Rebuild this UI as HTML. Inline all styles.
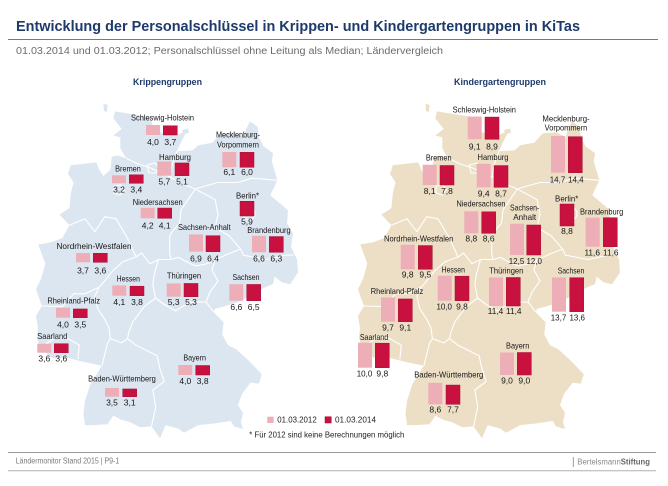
<!DOCTYPE html>
<html><head><meta charset="utf-8"><style>
html,body{margin:0;padding:0;background:#fff;}
svg{display:block;}
text{font-family:"Liberation Sans Narrow","Liberation Sans",Arial,sans-serif;}
.l{font-size:8.5px;fill:#161616;text-anchor:middle;}
.v{font-size:8.5px;fill:#161616;text-anchor:middle;}
.p{fill:#eeaeb7;}
.r{fill:#c9113f;stroke:#a50c33;stroke-width:0.5;}
.b{fill:none;stroke:#fff;stroke-width:1.1;stroke-linejoin:round;}
</style></head><body>
<svg width="668" height="486" viewBox="0 0 668 486" xmlns="http://www.w3.org/2000/svg">
<rect width="668" height="486" fill="#fff"/>
<!-- header -->
<text x="16" y="31" font-size="15" font-weight="bold" fill="#1d3a6b" textLength="564" lengthAdjust="spacingAndGlyphs">Entwicklung der Personalschlüssel in Krippen- und Kindergartengruppen in KiTas</text>
<line x1="8" y1="39.5" x2="658" y2="39.5" stroke="#7a7a7a" stroke-width="1"/>
<text x="16" y="54" font-size="10" fill="#6b6b6b" textLength="427" lengthAdjust="spacingAndGlyphs">01.03.2014 und 01.03.2012; Personalschlüssel ohne Leitung als Median; Ländervergleich</text>
<text x="167.5" y="85" font-size="9" font-weight="bold" fill="#1d3a6b" text-anchor="middle" textLength="69" lengthAdjust="spacingAndGlyphs">Krippengruppen</text>
<text x="500" y="85" font-size="9" font-weight="bold" fill="#1d3a6b" text-anchor="middle" textLength="92" lengthAdjust="spacingAndGlyphs">Kindergartengruppen</text>

<!-- LEFT MAP -->
<g>
<path fill="#dce6f1" d="M115,111.4 L135.9,114.8 L150.1,117 L152.9,126.4 L158.5,132 L175.5,135.4 L186.8,131.1 L181.2,141.8 L176.9,151.2 L192.5,150.4 L198.2,145.2 L212.3,142.7 L220.8,133.2 L235,132.4 L243.5,137.5 L246.3,129 L250,121.3 L257.6,126.8 L259,137.5 L263.3,146.1 L273.1,153.3 L271.7,161.1 L277.4,180.3 L270.3,195.3 L288,210.3 L287,223.1 L293,233.8 L291,246.7 L297,259.5 L298,272.4 L290.1,284.3 L281.6,282.2 L274.6,276.6 L273.1,283.9 L263.3,288.2 L251.9,294.6 L237.8,302.3 L223.6,306.6 L215.1,308.7 L213.7,312.1 L223.6,322.4 L222.2,334.4 L227.9,345.1 L236.4,349.4 L249.1,361 L261.8,374.2 L259,383.6 L250.5,382.7 L242,394 L238,405 L243,413 L241,422 L243,429 L234,426.4 L230.7,420.9 L215.1,423.4 L198.2,425.1 L184,432.8 L178.3,428.6 L165.6,425.1 L160,438.4 L151.5,426.4 L140.1,427.3 L130.2,422.2 L121.7,420 L113.3,415.7 L107.6,424.3 L93.4,425.1 L85,425.1 L83.5,413.6 L85,400.8 L90.6,383.6 L101.9,365.7 L85,362.2 L68,358 L52,358 L40,348 L37,338 L38,328 L36,316 L42,306 L39,298 L36,289 L41.1,278.8 L45.3,263.8 L38.3,244.5 L51,242.3 L62.3,238.1 L69.4,225.3 L59.5,214.6 L69.4,208.1 L70.8,193.2 L73.6,182.5 L68,173.9 L70.8,165.3 L96.3,162.4 L99.1,169.6 L103.4,176 L110.4,169.6 L111.8,156.8 L117.5,155.5 L126,158.1 L120.3,148.2 L120.3,137.5 L113.3,135.4 L121.7,129 L113.3,118.3 Z M103.5,104 L107.5,104.5 L107,112 L104,111 Z M182,130 L188,128.5 L189,133 L183,133.5 Z"/>
<path class="b" d="M126,158.1 L138,164 L148,167 L160,172 L170,177 L172,165 L176.9,151.2 M170,177 L183,184 L195.3,189 L205,186 L218,182.5 L237.8,182.5 L251.9,178.2 L277.4,180.3 M195.3,189 L188,199.6 L181,210 L179.6,223 L172,232 L169.7,236 L169.7,253 L171,259.5 L158.5,259.5 L150,263.8 L141.6,253 L136,257 L127.4,238 L116,218.8 L104.8,216.7 L94.9,231.7 L85,218.8 L69.4,225.3 M195.3,189 L215.1,199.6 L218,214.6 L215.1,227.4 L229.3,236 L240.6,249 L243.4,255.2 L266.1,259.5 L285.9,255.2 L294,255 M240.6,249 L228,254 L215,260 L206,264 L195.3,265.9 L185,261 L178.3,257.4 L171,259.5 M215,260 L212,270 L218,281 L210,292 L206,302 L213.7,312.1 M206,302 L189.8,302.3 L175.5,310.9 L164.2,304.5 L155.6,298 L152.9,285.2 L154.3,274.5 L158.5,259.5 M136,257 L123.2,261.6 L113.3,270.2 L104.8,280.9 L99.1,287.3 L94.9,295.9 L97.7,308.7 L104.8,319.4 L109,328 L110.4,338.7 L121.7,342.9 L127.4,338.7 L128.8,332.3 L133,321.6 L144.3,306.6 L155.6,298 M99.1,287.3 L85,293.7 L73.6,293.7 L62.3,306.6 L42,306 M40,348 L56.7,336.5 L68,338.7 L79.3,345.1 L77.9,359 M110.4,338.7 L107.6,342.9 L101.9,365.7 M127.4,338.7 L135.9,345.1 L157.1,355.8 L159.9,368.6 L164.2,381.4 L152.9,390 L155.7,407.1 L151.5,426.4 M147,165 L155,163 L159,168 L156,173 L149,173 Z M114,186 L121,185 L124,190 L120,195 L114,193 Z M243.1,213.7 a6,6 0 1,0 12,0 a6,6 0 1,0 -12,0"/>
</g>

<!-- RIGHT MAP -->
<g transform="translate(322,0)">
<path fill="#ecdfc6" d="M115,111.4 L135.9,114.8 L150.1,117 L152.9,126.4 L158.5,132 L175.5,135.4 L186.8,131.1 L181.2,141.8 L176.9,151.2 L192.5,150.4 L198.2,145.2 L212.3,142.7 L220.8,133.2 L235,132.4 L243.5,137.5 L246.3,129 L250,121.3 L257.6,126.8 L259,137.5 L263.3,146.1 L273.1,153.3 L271.7,161.1 L277.4,180.3 L270.3,195.3 L288,210.3 L287,223.1 L293,233.8 L291,246.7 L297,259.5 L298,272.4 L290.1,284.3 L281.6,282.2 L274.6,276.6 L273.1,283.9 L263.3,288.2 L251.9,294.6 L237.8,302.3 L223.6,306.6 L215.1,308.7 L213.7,312.1 L223.6,322.4 L222.2,334.4 L227.9,345.1 L236.4,349.4 L249.1,361 L261.8,374.2 L259,383.6 L250.5,382.7 L242,394 L238,405 L243,413 L241,422 L243,429 L234,426.4 L230.7,420.9 L215.1,423.4 L198.2,425.1 L184,432.8 L178.3,428.6 L165.6,425.1 L160,438.4 L151.5,426.4 L140.1,427.3 L130.2,422.2 L121.7,420 L113.3,415.7 L107.6,424.3 L93.4,425.1 L85,425.1 L83.5,413.6 L85,400.8 L90.6,383.6 L101.9,365.7 L85,362.2 L68,358 L52,358 L40,348 L37,338 L38,328 L36,316 L42,306 L39,298 L36,289 L41.1,278.8 L45.3,263.8 L38.3,244.5 L51,242.3 L62.3,238.1 L69.4,225.3 L59.5,214.6 L69.4,208.1 L70.8,193.2 L73.6,182.5 L68,173.9 L70.8,165.3 L96.3,162.4 L99.1,169.6 L103.4,176 L110.4,169.6 L111.8,156.8 L117.5,155.5 L126,158.1 L120.3,148.2 L120.3,137.5 L113.3,135.4 L121.7,129 L113.3,118.3 Z M103.5,104 L107.5,104.5 L107,112 L104,111 Z M182,130 L188,128.5 L189,133 L183,133.5 Z"/>
<path class="b" d="M126,158.1 L138,164 L148,167 L160,172 L170,177 L172,165 L176.9,151.2 M170,177 L183,184 L195.3,189 L205,186 L218,182.5 L237.8,182.5 L251.9,178.2 L277.4,180.3 M195.3,189 L188,199.6 L181,210 L179.6,223 L172,232 L169.7,236 L169.7,253 L171,259.5 L158.5,259.5 L150,263.8 L141.6,253 L136,257 L127.4,238 L116,218.8 L104.8,216.7 L94.9,231.7 L85,218.8 L69.4,225.3 M195.3,189 L215.1,199.6 L218,214.6 L215.1,227.4 L229.3,236 L240.6,249 L243.4,255.2 L266.1,259.5 L285.9,255.2 L294,255 M240.6,249 L228,254 L215,260 L206,264 L195.3,265.9 L185,261 L178.3,257.4 L171,259.5 M215,260 L212,270 L218,281 L210,292 L206,302 L213.7,312.1 M206,302 L189.8,302.3 L175.5,310.9 L164.2,304.5 L155.6,298 L152.9,285.2 L154.3,274.5 L158.5,259.5 M136,257 L123.2,261.6 L113.3,270.2 L104.8,280.9 L99.1,287.3 L94.9,295.9 L97.7,308.7 L104.8,319.4 L109,328 L110.4,338.7 L121.7,342.9 L127.4,338.7 L128.8,332.3 L133,321.6 L144.3,306.6 L155.6,298 M99.1,287.3 L85,293.7 L73.6,293.7 L62.3,306.6 L42,306 M40,348 L56.7,336.5 L68,338.7 L79.3,345.1 L77.9,359 M110.4,338.7 L107.6,342.9 L101.9,365.7 M127.4,338.7 L135.9,345.1 L157.1,355.8 L159.9,368.6 L164.2,381.4 L152.9,390 L155.7,407.1 L151.5,426.4 M147,165 L155,163 L159,168 L156,173 L149,173 Z M114,186 L121,185 L124,190 L120,195 L114,193 Z M243.1,213.7 a6,6 0 1,0 12,0 a6,6 0 1,0 -12,0"/>
</g>

<!-- LEFT BARS & LABELS -->
<text class="l" x="162.5" y="120.7" textLength="63" lengthAdjust="spacingAndGlyphs">Schleswig-Holstein</text>
<rect class="p" x="146" y="125" width="14" height="10"/><rect class="r" x="163.3" y="125.75" width="14" height="9.25"/>
<text class="v" x="153" y="145">4,0</text><text class="v" x="170.3" y="145">3,7</text>

<text class="l" x="238" y="137.3" textLength="44" lengthAdjust="spacingAndGlyphs">Mecklenburg-</text>
<text class="l" x="238" y="147.7" textLength="42" lengthAdjust="spacingAndGlyphs">Vorpommern</text>
<rect class="p" x="222.3" y="152.05" width="14" height="15.25"/><rect class="r" x="240" y="152.3" width="14" height="15"/>
<text class="v" x="229.3" y="175">6,1</text><text class="v" x="247" y="175">6,0</text>

<text class="l" x="175" y="160" textLength="32" lengthAdjust="spacingAndGlyphs">Hamburg</text>
<rect class="p" x="157.3" y="161.45" width="14" height="14.25"/><rect class="r" x="175" y="162.95" width="14" height="12.75"/>
<text class="v" x="164.3" y="184.3">5,7</text><text class="v" x="182" y="184.3">5,1</text>

<text class="l" x="128" y="171.7" textLength="25.7" lengthAdjust="spacingAndGlyphs">Bremen</text>
<rect class="p" x="112" y="175.3" width="14" height="8"/><rect class="r" x="129.3" y="174.8" width="14" height="8.5"/>
<text class="v" x="119" y="192.7">3,2</text><text class="v" x="136.3" y="192.7">3,4</text>

<text class="l" x="247.5" y="198.3" textLength="23" lengthAdjust="spacingAndGlyphs">Berlin*</text>
<rect class="r" x="240" y="201.25" width="14" height="14.75"/>
<text class="v" x="247" y="224.3">5,9</text>

<text class="l" x="157.7" y="205" textLength="50" lengthAdjust="spacingAndGlyphs">Niedersachsen</text>
<rect class="p" x="140.7" y="207.8" width="14" height="10.5"/><rect class="r" x="157.7" y="208.05" width="14" height="10.25"/>
<text class="v" x="147.7" y="228.3">4,2</text><text class="v" x="164.7" y="228.3">4,1</text>

<text class="l" x="204.3" y="230" textLength="52.7" lengthAdjust="spacingAndGlyphs">Sachsen-Anhalt</text>
<rect class="p" x="189" y="234.45" width="14" height="17.25"/><rect class="r" x="206" y="235.7" width="14" height="16"/>
<text class="v" x="196" y="261.7">6,9</text><text class="v" x="213" y="261.7">6,4</text>

<text class="l" x="269" y="233" textLength="43.4" lengthAdjust="spacingAndGlyphs">Brandenburg</text>
<rect class="p" x="252" y="235.8" width="14" height="16.5"/><rect class="r" x="269.3" y="236.55" width="14" height="15.75"/>
<text class="v" x="259" y="261.7">6,6</text><text class="v" x="276.3" y="261.7">6,3</text>

<text class="l" x="94" y="249" textLength="75" lengthAdjust="spacingAndGlyphs">Nordrhein-Westfalen</text>
<rect class="p" x="76" y="253.05" width="14" height="9.25"/><rect class="r" x="93.3" y="253.3" width="14" height="9"/>
<text class="v" x="83" y="273.3">3,7</text><text class="v" x="100.3" y="273.3">3,6</text>

<text class="l" x="128.3" y="281.7" textLength="23.3" lengthAdjust="spacingAndGlyphs">Hessen</text>
<rect class="p" x="112.3" y="285.45" width="14" height="10.25"/><rect class="r" x="130" y="286.2" width="14" height="9.5"/>
<text class="v" x="119.3" y="305">4,1</text><text class="v" x="137" y="305">3,8</text>

<text class="l" x="184" y="278.3" textLength="34.3" lengthAdjust="spacingAndGlyphs">Thüringen</text>
<rect class="p" x="166.7" y="283.45" width="14" height="13.25"/><rect class="r" x="184" y="283.45" width="14" height="13.25"/>
<text class="v" x="173.7" y="305">5,3</text><text class="v" x="191" y="305">5,3</text>

<text class="l" x="246" y="280" textLength="27" lengthAdjust="spacingAndGlyphs">Sachsen</text>
<rect class="p" x="229.3" y="284.2" width="14" height="16.5"/><rect class="r" x="246.7" y="284.45" width="14" height="16.25"/>
<text class="v" x="236.3" y="310">6,6</text><text class="v" x="253.7" y="310">6,5</text>

<text class="l" x="73.7" y="303.3" textLength="52.7" lengthAdjust="spacingAndGlyphs">Rheinland-Pfalz</text>
<rect class="p" x="56" y="307.7" width="14" height="10"/><rect class="r" x="73.3" y="308.95" width="14" height="8.75"/>
<text class="v" x="63" y="327.3">4,0</text><text class="v" x="80.3" y="327.3">3,5</text>

<text class="l" x="52.3" y="339" textLength="30" lengthAdjust="spacingAndGlyphs">Saarland</text>
<rect class="p" x="37.3" y="343.7" width="14" height="9"/><rect class="r" x="54.3" y="343.7" width="14" height="9"/>
<text class="v" x="44.3" y="361.7">3,6</text><text class="v" x="61.3" y="361.7">3,6</text>

<text class="l" x="194.7" y="360.7" textLength="22.7" lengthAdjust="spacingAndGlyphs">Bayern</text>
<rect class="p" x="178.3" y="365" width="14" height="10"/><rect class="r" x="195.7" y="365.5" width="14" height="9.5"/>
<text class="v" x="185.3" y="384">4,0</text><text class="v" x="202.7" y="384">3,8</text>

<text class="l" x="122" y="381.7" textLength="67.7" lengthAdjust="spacingAndGlyphs">Baden-Württemberg</text>
<rect class="p" x="105" y="387.95" width="14" height="8.75"/><rect class="r" x="122.7" y="388.95" width="14" height="7.75"/>
<text class="v" x="112" y="405.7">3,5</text><text class="v" x="129.7" y="405.7">3,1</text>

<!-- RIGHT BARS & LABELS -->
<text class="l" x="484.3" y="112.7" textLength="63.3" lengthAdjust="spacingAndGlyphs">Schleswig-Holstein</text>
<rect class="p" x="467.7" y="116.55" width="14" height="22.75"/><rect class="r" x="485" y="117.05" width="14" height="22.25"/>
<text class="v" x="474.7" y="149.3">9,1</text><text class="v" x="492" y="149.3">8,9</text>

<text class="l" x="566" y="121.7" textLength="47.3" lengthAdjust="spacingAndGlyphs">Mecklenburg-</text>
<text class="l" x="566" y="130.7" textLength="42.7" lengthAdjust="spacingAndGlyphs">Vorpommern</text>
<rect class="p" x="551" y="135.95" width="14" height="36.75"/><rect class="r" x="568.3" y="136.7" width="14" height="36"/>
<text class="v" x="557.5" y="182.7" textLength="15.5" lengthAdjust="spacingAndGlyphs">14,7</text><text class="v" x="575.8" y="182.7" textLength="15.5" lengthAdjust="spacingAndGlyphs">14,4</text>

<text class="l" x="438.7" y="160.5" textLength="25.7" lengthAdjust="spacingAndGlyphs">Bremen</text>
<rect class="p" x="422.7" y="164.75" width="14" height="20.25"/><rect class="r" x="440" y="165.5" width="14" height="19.5"/>
<text class="v" x="429.7" y="194">8,1</text><text class="v" x="447" y="194">7,8</text>

<text class="l" x="493" y="160" textLength="31" lengthAdjust="spacingAndGlyphs">Hamburg</text>
<rect class="p" x="476.7" y="163.8" width="14" height="23.5"/><rect class="r" x="494" y="165.55" width="14" height="21.75"/>
<text class="v" x="483.7" y="196.7">9,4</text><text class="v" x="501" y="196.7">8,7</text>

<text class="l" x="481" y="206.7" textLength="49" lengthAdjust="spacingAndGlyphs">Niedersachsen</text>
<rect class="p" x="464.3" y="211.3" width="14" height="22"/><rect class="r" x="481.7" y="211.8" width="14" height="21.5"/>
<text class="v" x="471.3" y="241.7">8,8</text><text class="v" x="488.7" y="241.7">8,6</text>

<text class="l" x="524.7" y="210.7" textLength="29.3" lengthAdjust="spacingAndGlyphs">Sachsen-</text>
<text class="l" x="524.7" y="220" textLength="23" lengthAdjust="spacingAndGlyphs">Anhalt</text>
<rect class="p" x="510" y="223.75" width="14" height="31.25"/><rect class="r" x="526.7" y="225" width="14" height="30"/>
<text class="v" x="516.5" y="264" textLength="15.5" lengthAdjust="spacingAndGlyphs">12,5</text><text class="v" x="534.2" y="264" textLength="15.5" lengthAdjust="spacingAndGlyphs">12,0</text>

<text class="l" x="566.7" y="201.7" textLength="23.3" lengthAdjust="spacingAndGlyphs">Berlin*</text>
<rect class="r" x="560" y="204" width="14" height="22"/>
<text class="v" x="567" y="234">8,8</text>

<text class="l" x="601.7" y="214.3" textLength="43.3" lengthAdjust="spacingAndGlyphs">Brandenburg</text>
<rect class="p" x="585.7" y="217.7" width="14" height="29"/><rect class="r" x="603.3" y="217.7" width="14" height="29"/>
<text class="v" x="592.2" y="255.7" textLength="15.5" lengthAdjust="spacingAndGlyphs">11,6</text><text class="v" x="610.8" y="255.7" textLength="15.5" lengthAdjust="spacingAndGlyphs">11,6</text>

<text class="l" x="418.7" y="241.7" textLength="69.3" lengthAdjust="spacingAndGlyphs">Nordrhein-Westfalen</text>
<rect class="p" x="400.7" y="244.8" width="14" height="24.5"/><rect class="r" x="418.3" y="245.55" width="14" height="23.75"/>
<text class="v" x="407.7" y="277.7">9,8</text><text class="v" x="425.3" y="277.7">9,5</text>

<text class="l" x="453.3" y="272.7" textLength="23.3" lengthAdjust="spacingAndGlyphs">Hessen</text>
<rect class="p" x="437.7" y="275.7" width="14" height="25"/><rect class="r" x="455" y="276.2" width="14" height="24.5"/>
<text class="v" x="444.2" y="309.3" textLength="15.5" lengthAdjust="spacingAndGlyphs">10,0</text><text class="v" x="462" y="309.3">9,8</text>

<text class="l" x="506.3" y="273.3" textLength="34" lengthAdjust="spacingAndGlyphs">Thüringen</text>
<rect class="p" x="489" y="277.5" width="14" height="28.5"/><rect class="r" x="506.3" y="277.5" width="14" height="28.5"/>
<text class="v" x="495.5" y="314" textLength="15.5" lengthAdjust="spacingAndGlyphs">11,4</text><text class="v" x="513.8" y="314" textLength="15.5" lengthAdjust="spacingAndGlyphs">11,4</text>

<text class="l" x="571" y="273.3" textLength="26.6" lengthAdjust="spacingAndGlyphs">Sachsen</text>
<rect class="p" x="552" y="277.45" width="14" height="34.25"/><rect class="r" x="569.7" y="277.7" width="14" height="34"/>
<text class="v" x="558.5" y="320.7" textLength="15.5" lengthAdjust="spacingAndGlyphs">13,7</text><text class="v" x="577.2" y="320.7" textLength="15.5" lengthAdjust="spacingAndGlyphs">13,6</text>

<text class="l" x="397" y="294" textLength="52.6" lengthAdjust="spacingAndGlyphs">Rheinland-Pfalz</text>
<rect class="p" x="381" y="297.45" width="14" height="24.25"/><rect class="r" x="398.3" y="298.95" width="14" height="22.75"/>
<text class="v" x="388" y="330.7">9,7</text><text class="v" x="405.3" y="330.7">9,1</text>

<text class="l" x="374" y="340" textLength="28.3" lengthAdjust="spacingAndGlyphs">Saarland</text>
<rect class="p" x="358" y="342.7" width="14" height="25"/><rect class="r" x="375.3" y="343.2" width="14" height="24.5"/>
<text class="v" x="364.5" y="376.7" textLength="15.5" lengthAdjust="spacingAndGlyphs">10,0</text><text class="v" x="382.3" y="376.7">9,8</text>

<text class="l" x="517.7" y="348.3" textLength="23.3" lengthAdjust="spacingAndGlyphs">Bayern</text>
<rect class="p" x="500" y="352.5" width="14" height="22.5"/><rect class="r" x="517.3" y="352.5" width="14" height="22.5"/>
<text class="v" x="507" y="383.3">9,0</text><text class="v" x="524.3" y="383.3">9,0</text>

<text class="l" x="448.8" y="377.3" textLength="69" lengthAdjust="spacingAndGlyphs">Baden-Württemberg</text>
<rect class="p" x="428.3" y="382.8" width="14" height="21.5"/><rect class="r" x="446" y="385.05" width="14" height="19.25"/>
<text class="v" x="435.3" y="412.7">8,6</text><text class="v" x="453" y="412.7">7,7</text>

<!-- legend -->
<rect class="p" x="267.3" y="416.7" width="6.3" height="6.3"/>
<text x="277.3" y="422.7" font-size="8.5" fill="#222" textLength="39.4" lengthAdjust="spacingAndGlyphs">01.03.2012</text>
<rect class="r" x="325" y="416.7" width="6.3" height="6.3"/>
<text x="335" y="422.7" font-size="8.5" fill="#222" textLength="41" lengthAdjust="spacingAndGlyphs">01.03.2014</text>
<text x="249.3" y="437.7" font-size="8.5" fill="#222" textLength="155" lengthAdjust="spacingAndGlyphs">* Für 2012 sind keine Berechnungen möglich</text>

<!-- footer -->
<line x1="8" y1="452.5" x2="656" y2="452.5" stroke="#9a9a9a" stroke-width="1"/>
<line x1="8" y1="470.7" x2="656" y2="470.7" stroke="#b0b0b0" stroke-width="1"/>
<text x="15.7" y="463.3" font-size="8" fill="#7a7a7a" textLength="103.6" lengthAdjust="spacingAndGlyphs">Ländermonitor Stand 2015 | P9-1</text>
<line x1="573.3" y1="457" x2="573.3" y2="467" stroke="#888" stroke-width="0.8"/>
<text x="577.3" y="464.3" font-size="8" fill="#8a8a8a" textLength="72.7" lengthAdjust="spacingAndGlyphs">Bertelsmann<tspan fill="#666" font-weight="bold">Stiftung</tspan></text>
</svg>
</body></html>
